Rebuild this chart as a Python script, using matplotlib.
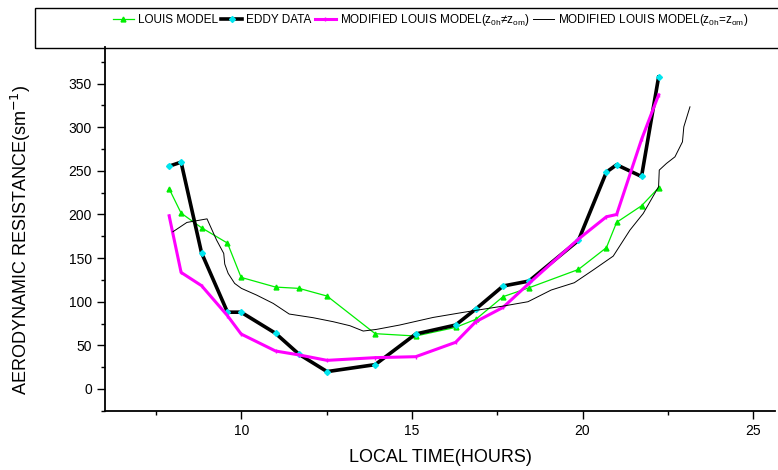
import matplotlib.pyplot as plt
from matplotlib.patches import Rectangle
from matplotlib.ticker import MultipleLocator

plt.rcParams['font.family'] = ['Liberation Sans', 'DejaVu Sans']

# time (hours) of the measured / modelled points
hours = [7.88, 8.23, 8.83, 9.59, 9.99, 11.0, 11.69, 12.51, 13.92,
         15.11, 16.28, 16.87, 17.67, 18.43, 19.88, 20.70, 21.0, 21.73, 22.23]

louis = [229.5, 201.6, 184.8, 167.2, 127.9, 116.8, 115.3, 106.5, 63.4,
         60.7, 70.6, 79.8, 105.8, 116.0, 137.0, 162.0, 191.0, 210.0, 230.6]
eddy = [255.4, 260.0, 156.0, 88.0, 88.0, 63.8, 39.7, 19.9, 27.9,
        63.0, 73.3, 91.6, 118.0, 123.7, 170.3, 248.6, 257.0, 243.6, 357.4]
mod_louis_ne = [198.5, 133.6, 118.4, 84.0, 63.0, 43.5, 39.0, 32.8, 35.9,
                37.0, 53.5, 77.1, 93.5, 121.0, 171.8, 197.4, 200.0, 286.0, 337.0]

# z0h = z0m run, denser time series
hours_eq = [7.99, 8.40, 8.99, 9.27, 9.48, 9.51, 9.61, 9.80, 10.0, 10.44, 10.93,
            11.40, 12.10, 12.69, 13.18, 13.57, 13.96, 14.64, 15.62, 16.50,
            17.67, 18.40, 19.08, 19.76, 20.31, 20.90, 21.39, 21.78, 22.23,
            22.25, 22.46, 22.71, 22.93, 22.97, 23.15]
mod_louis_eq = [180.2, 190.9, 195.0, 170.7, 155.4, 143.2, 132.5, 121.0, 115.3,
                107.7, 98.1, 85.9, 81.7, 77.1, 72.5, 66.4, 68.3, 73.3, 82.0,
                87.8, 95.0, 100.0, 113.4, 121.8, 136.3, 152.3, 182.1, 201.2,
                231.8, 250.9, 258.5, 266.1, 283.3, 300.5, 323.4]

fig = plt.figure(figsize=(7.78, 4.70), dpi=100)
ax = fig.add_axes([0.135, 0.126, 0.861, 0.774])

ax.plot(hours, louis, color='#00ee00', lw=0.9, marker='^', ms=3.5,
        label='LOUIS MODEL')
ax.plot(hours, eddy, color='black', lw=2.6, marker='D', ms=3,
        mfc='#00e5ee', mec='#00e5ee', label='EDDY DATA')
ax.plot(hours, mod_louis_ne, color='#ff00ff', lw=2.2, marker='|', ms=3,
        label='MODIFIED LOUIS MODEL(z$_{\\mathregular{0h}}$\u2260z$_{\\mathregular{om}}$)')
ax.plot(hours_eq, mod_louis_eq, color='black', lw=0.7,
        label='MODIFIED LOUIS MODEL(z$_{\\mathregular{0h}}$=z$_{\\mathregular{om}}$)')

ax.set_xlim(6, 25.64)
ax.set_ylim(-25, 392)
ax.xaxis.set_major_locator(MultipleLocator(5))
ax.xaxis.set_minor_locator(MultipleLocator(2.5))
ax.yaxis.set_major_locator(MultipleLocator(50))
ax.yaxis.set_minor_locator(MultipleLocator(25))
ax.tick_params(which='major', direction='out', length=6, width=1, labelsize=10)
ax.tick_params(which='minor', direction='out', length=3, width=1)
for s in ['top', 'right']:
    ax.spines[s].set_visible(False)
for s in ['left', 'bottom']:
    ax.spines[s].set_linewidth(1.3)

ax.set_xlabel('LOCAL TIME(HOURS)', fontsize=13, labelpad=8)
ax.set_ylabel('AERODYNAMIC RESISTANCE(sm$^{-1}$)', fontsize=13)
ax.yaxis.set_label_coords(-0.108, 0.469)

# legend box across the top
fig.patches.append(Rectangle((0.045, 0.898), 0.96, 0.085, transform=fig.transFigure,
                             fill=False, edgecolor='black', lw=1))
fig.legend(loc='center left', bbox_to_anchor=(0.145, 0.957), ncol=4, frameon=False,
           fontsize=8.5, handlelength=1.8, handletextpad=0.3, columnspacing=0.3,
           borderaxespad=0, borderpad=0)

fig.savefig('out.png', dpi=100)
